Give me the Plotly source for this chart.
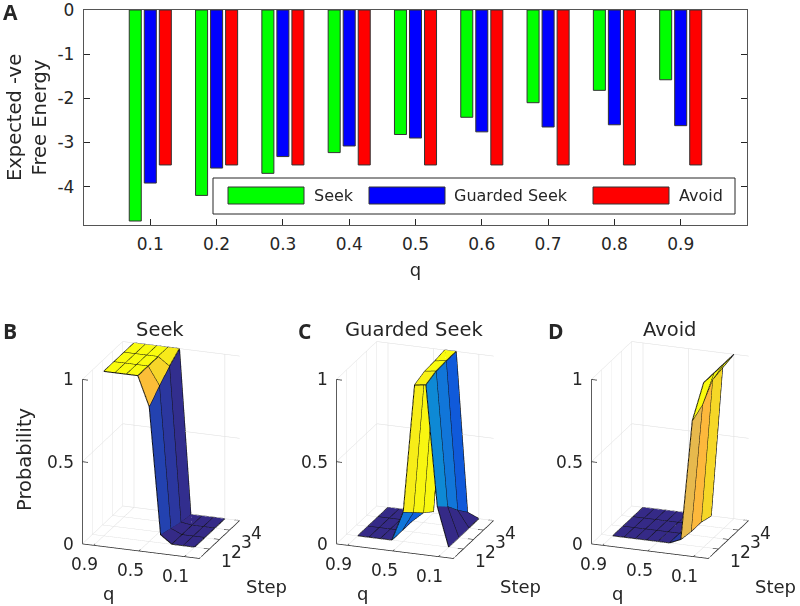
import math

import plotly.graph_objects as go

W, H = 800, 606
FONT = "DejaVu Sans"
INK = "#262626"

q_bar = [0.1, 0.2, 0.3, 0.4, 0.5, 0.6, 0.7, 0.8, 0.9]
seek_energy = [-4.78, -4.2, -3.7, -3.23, -2.82, -2.43, -2.1, -1.82, -1.58]
guarded_energy = [-3.92, -3.58, -3.32, -3.08, -2.9, -2.76, -2.65, -2.6, -2.62]
avoid_energy = [-3.51, -3.51, -3.51, -3.51, -3.51, -3.51, -3.51, -3.51, -3.51]

q_grid = [0.1, 0.2, 0.3, 0.4, 0.5, 0.6, 0.7, 0.8, 0.9]
step_grid = [1, 2, 3, 4]

# rows follow q_grid, columns follow step_grid
seek_prob = [
    [0, 0, 0, 0],
    [0, 0, 0, 0],
    [0, 0, 0, 0],
    [0.05, 0.03, 0.01, 0],
    [0.82, 0.89, 0.95, 1],
    [1, 1, 1, 1],
    [1, 1, 1, 1],
    [1, 1, 1, 1],
    [1, 1, 1, 1],
]
guarded_prob = [
    [0, 0, 0, 0],
    [0.24, 0.18, 0.1, 0.03],
    [0.97, 0.995, 1, 1],
    [0.96, 0.985, 0.99, 1],
    [0.18, 0.12, 0.06, 0.01],
    [0, 0, 0, 0],
    [0, 0, 0, 0],
    [0, 0, 0, 0],
    [0, 0, 0, 0],
]
avoid_prob = [
    [1, 1, 1, 1],
    [0.76, 0.8, 0.895, 0.91],
    [0.03, 0.02, 0.02, 0],
    [0, 0, 0, 0],
    [0, 0, 0, 0],
    [0, 0, 0, 0],
    [0, 0, 0, 0],
    [0, 0, 0, 0],
    [0, 0, 0, 0],
]

# old matlab parula
parula = [
    [0.0, "#352a87"], [0.1, "#0f5cdd"], [0.2, "#127dd8"], [0.3, "#079ccf"],
    [0.4, "#15b1b4"], [0.5, "#59bd8c"], [0.6, "#a5be6b"], [0.7, "#d2bb55"],
    [0.75, "#e0b952"], [0.8, "#fdb83c"], [0.9, "#f5d826"], [1.0, "#f9fb0e"],
]

Q_MAX, Q_MIN = 1.0, -0.03
AZ, EL = math.radians(20), math.radians(20)
EYE_DIST = 2.0
BOX_SCALE = 1.25


def px_x(x):
    return x / W


def px_y(y):
    return 1 - y / H


def label(text, x, y, size, **kw):
    fig.add_annotation(text=text, x=px_x(x), y=px_y(y), xref="paper", yref="paper",
                       showarrow=False, font=dict(family=kw.pop("family", FONT), size=size, color=INK),
                       xanchor="center", yanchor="middle", **kw)


def surface_traces(prob, scene):
    '''Faceted surface as a mesh, each quad takes the colour of its lower corner like surf() does.'''
    xs, ys, zs = [], [], []
    for i, q in enumerate(q_grid):
        for j, s in enumerate(step_grid):
            xs.append(-q)
            ys.append(s)
            zs.append(prob[i][j])
    n = len(step_grid)
    ii, jj, kk, cell = [], [], [], []
    for i in range(len(q_grid) - 1):
        for j in range(n - 1):
            a, b, c, d = i * n + j, i * n + j + 1, (i + 1) * n + j + 1, (i + 1) * n + j
            ii += [a, a]
            jj += [b, c]
            kk += [c, d]
            cell += [prob[i][j], prob[i][j]]
    mesh = go.Mesh3d(x=xs, y=ys, z=zs, i=ii, j=jj, k=kk, intensity=cell, intensitymode="cell",
                     colorscale=parula, cmin=0, cmax=1, showscale=False, flatshading=True,
                     lighting=dict(ambient=1, diffuse=0, specular=0, fresnel=0, roughness=1),
                     hoverinfo="skip", scene=scene)
    ex, ey, ez = [], [], []
    for i, q in enumerate(q_grid):
        ex += [-q] * n + [None]
        ey += step_grid + [None]
        ez += prob[i] + [None]
    for j, s in enumerate(step_grid):
        ex += [-q for q in q_grid] + [None]
        ey += [s] * len(q_grid) + [None]
        ez += [row[j] for row in prob] + [None]
    edges = go.Scatter3d(x=ex, y=ey, z=ez, mode="lines", line=dict(color="#111111", width=2),
                         hoverinfo="skip", scene=scene)
    return [mesh, edges]


def frame_trace(scene):
    '''Axis lines and tick marks on the three front edges.'''
    ax, ay, az = [-Q_MAX, -Q_MAX, None, -Q_MAX, -Q_MIN, -Q_MIN, None], [0, 0, None, 0, 0, 4, None], [0, 1, None, 0, 0, 0, None]
    for z in [0, 0.5, 1]:
        ax += [-Q_MAX, -Q_MAX + 0.05, None]
        ay += [0, 0, None]
        az += [z, z, None]
    for q in [0.9, 0.5, 0.1]:
        ax += [-q, -q, None]
        ay += [0, 0.15, None]
        az += [0, 0, None]
    for s in step_grid:
        ax += [-Q_MIN, -Q_MIN - 0.05, None]
        ay += [s, s, None]
        az += [0, 0, None]
    return go.Scatter3d(x=ax, y=ay, z=az, mode="lines", line=dict(color=INK, width=1.5),
                        hoverinfo="skip", scene=scene)


def scene_layout(center_x):
    tick_font = dict(family=FONT, size=17, color=INK)
    notes = []
    for z, t in zip([0, 0.5, 1], ["0", "0.5", "1"]):
        notes.append(dict(x=-Q_MAX, y=0, z=z, text=t, showarrow=False, xanchor="right", yanchor="middle",
                          xshift=-6, font=tick_font))
    for q in [0.9, 0.5, 0.1]:
        notes.append(dict(x=-q, y=0, z=0, text=str(q), showarrow=False, xanchor="center", yanchor="middle",
                          xshift=-9, yshift=-19, font=tick_font))
    for s in step_grid:
        notes.append(dict(x=-Q_MIN, y=s, z=0, text=str(s), showarrow=False, xanchor="center", yanchor="middle",
                          xshift=17, yshift=-12, font=tick_font))
    half_w, half_h = 100, 140
    axis = dict(showbackground=False, showline=False, showticklabels=False, ticks="", zeroline=False,
                showspikes=False, gridcolor="#dcdcdc", gridwidth=1, title=dict(text=""))
    return dict(
        domain=dict(x=[px_x(center_x - half_w), px_x(center_x + half_w)], y=[px_y(450 + half_h), px_y(450 - half_h)]),
        xaxis=dict(axis, range=[-Q_MAX, -Q_MIN], tickvals=[-0.9, -0.5, -0.1]),
        yaxis=dict(axis, range=[0, 4], tickvals=step_grid),
        zaxis=dict(axis, range=[0, 1], tickvals=[0, 0.5, 1]),
        aspectmode="manual",
        aspectratio=dict(x=BOX_SCALE * 123.4 / 173.5, y=BOX_SCALE * 117 / 173.5, z=BOX_SCALE),
        camera=dict(
            projection=dict(type="orthographic"),
            up=dict(x=0, y=0, z=1),
            center=dict(x=0, y=0, z=0),
            eye=dict(x=EYE_DIST * math.sin(AZ) * math.cos(EL),
                     y=-EYE_DIST * math.cos(AZ) * math.cos(EL),
                     z=EYE_DIST * math.sin(EL)),
        ),
        annotations=notes,
    )


fig = go.Figure()

for name, values, colour in [("Seek", seek_energy, "#00ff00"), ("Guarded Seek", guarded_energy, "#0000ff"),
                             ("Avoid", avoid_energy, "#ff0000")]:
    fig.add_trace(go.Bar(x=q_bar, y=values, name=name, marker=dict(color=colour, line=dict(color="#333333", width=1)),
                         showlegend=False))

panels = [("scene", seek_prob, 161, "Seek", "B", 10), ("scene2", guarded_prob, 415, "Guarded Seek", "C", 304),
          ("scene3", avoid_prob, 670, "Avoid", "D", 556)]
for scene, prob, cx, title, letter, lx in panels:
    for tr in surface_traces(prob, scene):
        tr.showlegend = False
        fig.add_trace(tr)
    frame = frame_trace(scene)
    frame.showlegend = False
    fig.add_trace(frame)
    fig.update_layout({scene: scene_layout(cx)})
    label(title, cx - 1, 329, 19.5)
    label("q", cx - 53, 593, 18)
    label("Step", cx + 105, 586, 18)
    label(f"<b>{letter}</b>", lx, 331, 21, family="Open Sans")

label("Probability", 24, 460, 19.5, textangle=-90)
label("<b>A</b>", 10, 12, 21, family="Open Sans")

fig.update_layout(
    width=W, height=H, autosize=False, margin=dict(l=0, r=0, t=0, b=0, autoexpand=False),
    paper_bgcolor="white", plot_bgcolor="white",
    barmode="group", bargap=0.32, bargroupgap=0.2,
    font=dict(family=FONT, color=INK),
    xaxis=dict(domain=[px_x(84), px_x(747)], range=[0, 1], tickvals=q_bar, ticktext=[str(q) for q in q_bar],
               ticks="inside", ticklen=6, tickcolor=INK, showline=True, linecolor="#555555", linewidth=1.3, mirror="ticks",
               showgrid=False, zeroline=False, tickfont=dict(size=17), layer="below traces", automargin=False,
               ticklabelstandoff=3, title=dict(text="q", font=dict(size=18), standoff=10)),
    yaxis=dict(domain=[px_y(225), px_y(10)], range=[-4.87, 0], tickvals=[0, -1, -2, -3, -4],
               ticktext=["0", "-1", "-2", "-3", "-4"], ticklabeloverflow="allow",
               ticks="inside", ticklen=6, tickcolor=INK, showline=True, linecolor="#555555", linewidth=1.3, mirror="ticks",
               showgrid=False, zeroline=False, tickfont=dict(size=17), ticklabelstandoff=5, automargin=False,
               title=dict(text="Expected -ve<br>Free Energy", font=dict(size=19.5), standoff=5)),
)

# matlab style legend with the long swatches
legend_entries = [("Seek", "#00ff00", 228, 312), ("Guarded Seek", "#0000ff", 369, 452), ("Avoid", "#ff0000", 593, 677)]
fig.add_shape(type="rect", xref="paper", yref="paper", x0=px_x(213), x1=px_x(735), y0=px_y(214), y1=px_y(178),
              fillcolor="white", line=dict(color=INK, width=1))
for text, colour, x0, tx in legend_entries:
    fig.add_shape(type="rect", xref="paper", yref="paper", x0=px_x(x0), x1=px_x(x0 + 76), y0=px_y(204), y1=px_y(187),
                  fillcolor=colour, line=dict(color="#333333", width=1))
    fig.add_annotation(text=text, x=px_x(tx), y=px_y(195.5), xref="paper", yref="paper", showarrow=False,
                       xanchor="left", yanchor="middle", font=dict(family=FONT, size=16, color=INK))

# the default page keeps the body margin, drop it so the figure fills the window
fig.write_html("out.html", config={"displayModeBar": False}, post_script="document.body.style.margin = '0';")
